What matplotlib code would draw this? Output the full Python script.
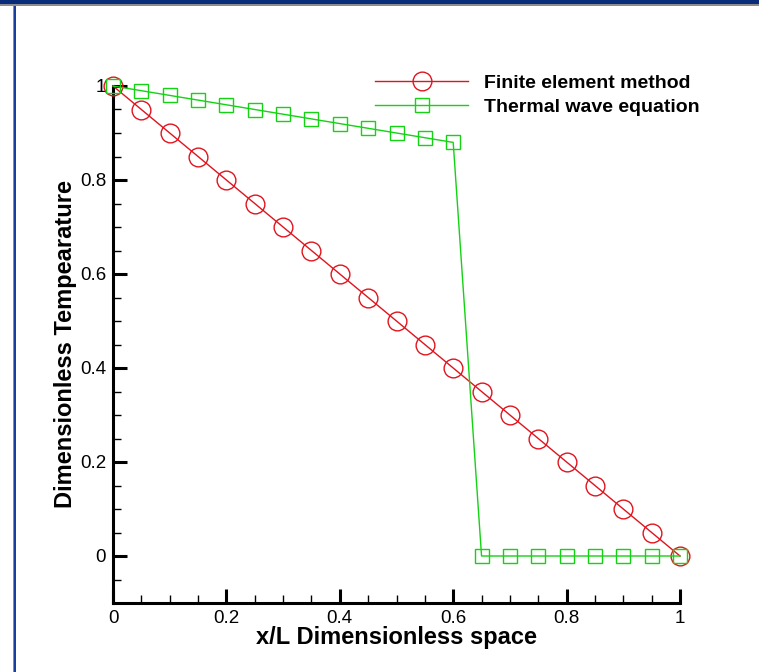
import matplotlib.pyplot as plt
from matplotlib.patches import Rectangle
from matplotlib.ticker import MultipleLocator

# x/L positions
x_fem = [0.0, 0.05, 0.1, 0.15, 0.2, 0.25, 0.3, 0.35, 0.4, 0.45, 0.5,
         0.55, 0.6, 0.65, 0.7, 0.75, 0.8, 0.85, 0.9, 0.95, 1.0]
t_fem = [1.0, 0.95, 0.9, 0.85, 0.8, 0.75, 0.7, 0.65, 0.6, 0.55, 0.5,
         0.45, 0.4, 0.35, 0.3, 0.25, 0.2, 0.15, 0.1, 0.05, 0.0]

x_twe = [0.0, 0.05, 0.1, 0.15, 0.2, 0.25, 0.3, 0.35, 0.4, 0.45, 0.5,
         0.55, 0.6, 0.65, 0.7, 0.75, 0.8, 0.85, 0.9, 0.95, 1.0]
t_twe = [1.0, 0.99, 0.98, 0.97, 0.96, 0.95, 0.94, 0.93, 0.92, 0.91, 0.90,
         0.89, 0.88, 0.0, 0.0, 0.0, 0.0, 0.0, 0.0, 0.0, 0.0]

plt.rcParams['font.family'] = ['Liberation Sans', 'DejaVu Sans']

fig = plt.figure(figsize=(7.59, 6.72), dpi=100)

# window frame bits (top bar, left border)
fig.patches.append(Rectangle((0, 1 - 4/672), 1, 4/672, transform=fig.transFigure,
                             facecolor='#0a2a7a', edgecolor='none'))
fig.patches.append(Rectangle((0, 1 - 6/672), 1, 2/672, transform=fig.transFigure,
                             facecolor='#8c8c8c', edgecolor='none'))
fig.patches.append(Rectangle((13/759, 0), 1/759, 1 - 6/672, transform=fig.transFigure,
                             facecolor='#8c8c8c', edgecolor='none'))
fig.patches.append(Rectangle((14/759, 0), 2/759, 1 - 6/672, transform=fig.transFigure,
                             facecolor='#1a3ea0', edgecolor='none'))

ax = fig.add_axes([113/759, 69/672, 567/759, 517/672])

red = '#e0141e'
green = '#14d214'
ax.plot(x_fem, t_fem, color=red, lw=1, marker='o', ms=13.5, mfc='none',
        mec=red, mew=1, label='Finite element method', clip_on=False, zorder=3)
ax.plot(x_twe, t_twe, color=green, lw=1, marker='s', ms=9.5, mfc='none',
        mec=green, mew=1, label='Thermal wave equation', clip_on=False, zorder=3)

ax.set_xlim(0, 1)
ax.set_ylim(-0.1, 1.0)
ax.spines['top'].set_visible(False)
ax.spines['right'].set_visible(False)
ax.spines['left'].set_linewidth(2.2)
ax.spines['bottom'].set_linewidth(2.2)

ax.xaxis.set_minor_locator(MultipleLocator(0.05))
ax.yaxis.set_minor_locator(MultipleLocator(0.05))
ax.set_xticks([0, 0.2, 0.4, 0.6, 0.8, 1.0])
ax.set_xticklabels(['0', '0.2', '0.4', '0.6', '0.8', '1'])
ax.set_yticks([0, 0.2, 0.4, 0.6, 0.8, 1.0])
ax.set_yticklabels(['0', '0.2', '0.4', '0.6', '0.8', '1'])
ax.tick_params(which='major', direction='in', length=10, width=2.2, labelsize=13.5, pad=5)
ax.tick_params(which='minor', direction='in', length=5.5, width=1)

ax.set_xlabel('x/L Dimensionless space', fontsize=17, fontweight='bold', labelpad=-1)
ax.set_ylabel('Dimensionless Tempearature', fontsize=17, fontweight='bold', labelpad=2)

leg = ax.legend(loc='upper left', bbox_to_anchor=(375/759, 1 - 74/672),
                bbox_transform=fig.transFigure, frameon=False,
                handlelength=4.8, handletextpad=0.8, labelspacing=0.35,
                prop={'weight': 'bold', 'size': 14}, borderaxespad=0,
                borderpad=0)

fig.savefig('out.png', dpi=100)
